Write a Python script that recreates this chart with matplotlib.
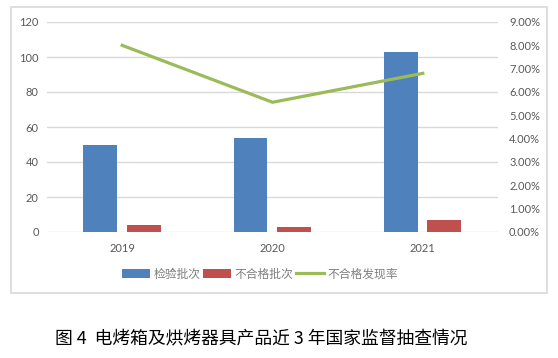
import matplotlib.pyplot as plt
from matplotlib.patches import Rectangle
from matplotlib.ticker import FuncFormatter
import numpy as np

years = ['2019', '2020', '2021']
inspected = [50, 54, 103]
failed = [4, 3, 7]
fail_rate = [8.00, 5.56, 6.80]  # percent

plt.rcParams['font.family'] = ['Lato', 'Noto Sans CJK SC', 'DejaVu Sans']

fig = plt.figure(figsize=(5.58, 3.58), dpi=100)
W, H = 558, 358

# outer chart frame
fig.patches.append(Rectangle((11 / W, 1 - 293 / H), 536 / W, 286 / H,
                             transform=fig.transFigure, fill=False,
                             edgecolor='#d9d9d9', linewidth=1.2))

ax = fig.add_axes([47 / W, 1 - 232 / H, 451 / W, 210 / H])
ax2 = ax.twinx()

x = np.arange(len(years))
w = 0.225
b1 = ax.bar(x - 0.146, inspected, w, color='#4f81bd', label='检验批次', zorder=3)
b2 = ax.bar(x + 0.143, failed, w, color='#c0504d', label='不合格批次', zorder=3)
ln, = ax2.plot(x, fail_rate, color='#9bbb59', linewidth=2.3, label='不合格发现率')

ax.set_xlim(-0.5, 2.5)
ax.set_ylim(0, 120)
ax.set_yticks(range(0, 121, 20))
ax.set_xticks(x)
ax.set_xticklabels(years)
ax2.set_ylim(0, 9)
ax2.set_yticks(range(0, 10))
ax2.yaxis.set_major_formatter(FuncFormatter(lambda v, p: f'{v:.2f}%'))

ax.grid(axis='y', color='#d9d9d9', linewidth=1, zorder=0)
ax.set_axisbelow(True)
for a in (ax, ax2):
    for s in a.spines.values():
        s.set_visible(False)
    a.tick_params(length=0, labelsize=8, colors='#595959')
ax.tick_params(axis='x', pad=8)
ax.tick_params(axis='y', pad=6)
ax2.tick_params(axis='y', pad=8)

fig.legend([b1, b2, ln], ['检验批次', '不合格批次', '不合格发现率'],
           loc='center', bbox_to_anchor=(260 / W, 1 - 274 / H), ncol=3,
           frameon=False, labelcolor='#7f7f7f',
           handlelength=2.4, handleheight=0.7, handletextpad=0.3,
           columnspacing=0.2, prop={'family': ['Noto Sans CJK SC'], 'size': 8.5})

fig.text(261 / W, 1 - 338 / H, '图 4  电烤箱及烘烤器具产品近 3 年国家监督抽查情况',
         ha='center', va='center', fontsize=12.8, color='black',
         family=['Noto Sans CJK SC', 'DejaVu Sans'])

fig.savefig('out.png', dpi=100)
